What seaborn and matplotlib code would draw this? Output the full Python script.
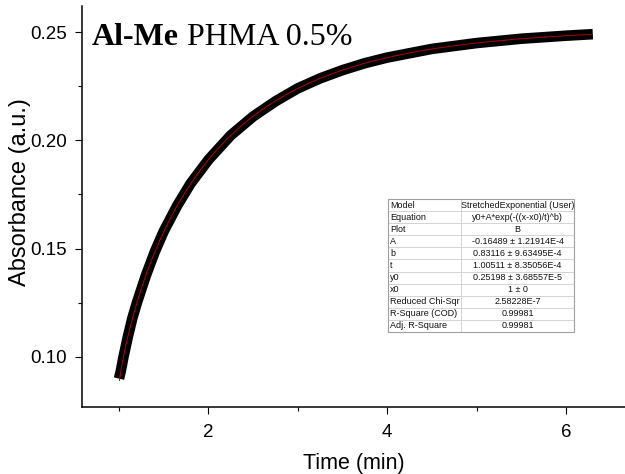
import numpy as np
import pandas as pd
import matplotlib
matplotlib.use("Agg")
import matplotlib.pyplot as plt
from matplotlib.ticker import MultipleLocator
import seaborn as sns

# Measured kinetics (absorbance vs time)
time_min = [1.00, 1.02, 1.05, 1.10, 1.15, 1.20, 1.30, 1.40, 1.50, 1.65, 1.80,
            2.00, 2.25, 2.50, 2.75, 3.00, 3.25, 3.50, 3.75, 4.00, 4.50, 5.00,
            5.50, 6.00, 6.30]
absorbance = [0.0900, 0.0935, 0.1000, 0.1095, 0.1180, 0.1250, 0.1375, 0.1485,
              0.1580, 0.1698, 0.1800, 0.1910, 0.2023, 0.2110, 0.2180, 0.2240,
              0.2286, 0.2324, 0.2356, 0.2382, 0.2422, 0.2449, 0.2469, 0.2483,
              0.2490]

# Stretched-exponential fit results
fit_A, fit_A_err = -0.16489, "1.21914E-4"
fit_b, fit_b_err = 0.83116, "9.63495E-4"
fit_t, fit_t_err = 1.00511, "8.35056E-4"
fit_y0, fit_y0_err = 0.25198, "3.68557E-5"
fit_x0 = 1
chi_sqr = "2.58228E-7"
r_square = "0.99981"
adj_r_square = "0.99981"
fit_range = (1.005, 6.28)

x_ticks = [2, 4, 6]
y_ticks = [0.10, 0.15, 0.20, 0.25]

sns.set_theme(style="ticks")
plt.rcParams["font.family"] = ["Liberation Sans", "DejaVu Sans"]
plt.rcParams.update({
    "text.color": "black",
    "axes.labelcolor": "black",
    "xtick.color": "black",
    "ytick.color": "black",
})

fig = plt.figure(figsize=(6.25, 4.74), dpi=100)
ax = fig.add_axes([0.1312, 0.1414, 0.8688, 0.8459])

data = pd.DataFrame({"Time": time_min, "Absorbance": absorbance})
sns.lineplot(data=data, x="Time", y="Absorbance", ax=ax, color="black",
             linewidth=7.6, solid_capstyle="butt", solid_joinstyle="round")

xf = np.linspace(fit_range[0], fit_range[1], 600)
yf = fit_y0 + fit_A * np.exp(-(((xf - fit_x0) / fit_t) ** fit_b))
fit = pd.DataFrame({"Time": xf, "Absorbance": yf})
sns.lineplot(data=fit, x="Time", y="Absorbance", ax=ax, color="#b00000",
             linewidth=0.7)

ax.set_xlim(0.586, 6.66)
ax.set_ylim(0.0769, 0.262)
ax.set_xticks(x_ticks)
ax.set_yticks(y_ticks)
ax.set_xticklabels([str(v) for v in x_ticks])
ax.set_yticklabels([f"{v:.2f}" for v in y_ticks])
ax.xaxis.set_minor_locator(MultipleLocator(1))
ax.yaxis.set_minor_locator(MultipleLocator(0.025))
ax.tick_params(which="major", direction="out", length=5, width=0.8,
               labelsize=13.5, colors="black")
ax.tick_params(axis="x", which="major", pad=7)
ax.tick_params(axis="y", which="major", pad=6)
ax.tick_params(which="minor", direction="out", length=3, width=0.8)

for side in ("top", "right"):
    ax.spines[side].set_visible(False)
for side in ("left", "bottom"):
    ax.spines[side].set_linewidth(1.1)
    ax.spines[side].set_color("black")

ax.set_xlabel("Time (min)", fontsize=15.5)
ax.set_ylabel("Absorbance (a.u.)", fontsize=17)
ax.xaxis.set_label_coords(0.5, -0.115)
ax.yaxis.set_label_coords(-0.094, 0.536)

# Title: bold sample name followed by regular description
fig.canvas.draw()
renderer = fig.canvas.get_renderer()
t1 = fig.text(92 / 625, 1 - 45 / 474, "Al-Me", fontsize=23, color="black",
              fontweight="bold", family=["Liberation Serif"], va="baseline")
bb = t1.get_window_extent(renderer=renderer)
fig.text(bb.x1 / fig.bbox.width, 1 - 45 / 474, " PHMA 0.5%", fontsize=23,
         color="black", family=["Liberation Serif"], va="baseline")

# Fit parameter table
rows = [
    ["Model", "StretchedExponential (User)"],
    ["Equation", "y0+A*exp(-((x-x0)/t)^b)"],
    ["Plot", "B"],
    ["A", f"{fit_A:.5f} \u00b1 {fit_A_err}"],
    ["b", f"{fit_b:.5f} \u00b1 {fit_b_err}"],
    ["t", f"{fit_t:.5f} \u00b1 {fit_t_err}"],
    ["y0", f"{fit_y0:.5f} \u00b1 {fit_y0_err}"],
    ["x0", f"{fit_x0} \u00b1 0"],
    ["Reduced Chi-Sqr", chi_sqr],
    ["R-Square (COD)", r_square],
    ["Adj. R-Square", adj_r_square],
]
W, H = 625, 474
tax = fig.add_axes([388 / W, 1 - 332 / H, (574 - 388) / W, (332 - 199) / H])
tax.axis("off")
tbl = tax.table(cellText=rows, bbox=[0, 0, 1, 1],
                colWidths=[73 / 186, 113 / 186])
tbl.auto_set_font_size(False)
for (r, c), cell in tbl.get_celld().items():
    cell.set_edgecolor("#d0d0d0")
    cell.set_linewidth(0.6)
    cell.set_facecolor("white")
    txt = cell.get_text()
    txt.set_fontsize(6.5)
    txt.set_color("#111111")
    if c == 0:
        cell._loc = "left"
        txt.set_ha("left")
        cell.PAD = 0.03
    else:
        cell._loc = "center"
        txt.set_ha("center")
tax.add_patch(plt.Rectangle((0, 0), 1, 1, transform=tax.transAxes,
                            fill=False, edgecolor="#a0a0a0", linewidth=0.8,
                            clip_on=False))

fig.savefig("out.png", dpi=100)
